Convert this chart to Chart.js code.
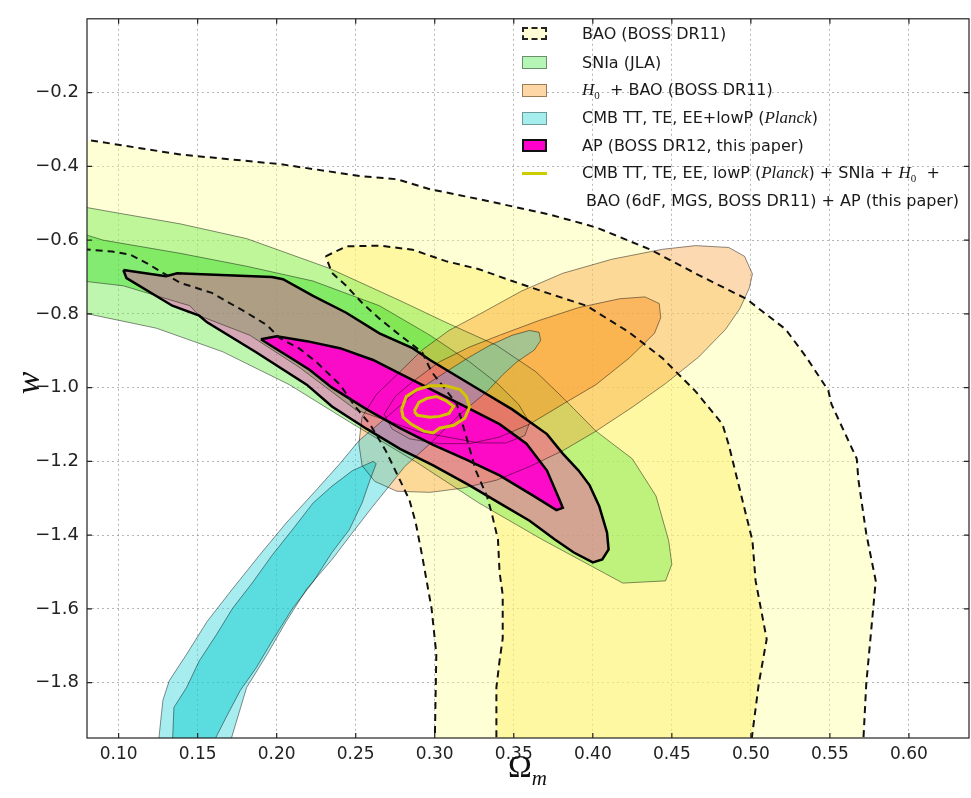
<!DOCTYPE html>
<html>
<head>
<meta charset="utf-8">
<script src="https://cdn.jsdelivr.net/npm/chart.js@4.4.1/dist/chart.umd.min.js"></script>
<style>
    body { margin: 0; background: #fff; }
    #quadro { position: relative; width: 971px; height: 798px; overflow: hidden; }
    #grafico { position: absolute; left: 0; top: 0; }
    .item {
        position: absolute; left: 522px; height: 28px;
        display: flex; align-items: center; white-space: nowrap;
        font: 16px 'DejaVu Sans', sans-serif; color: #1a1a1a;
    }
    .patch { width: 25px; height: 13px; box-sizing: border-box; margin-right: 35px; flex: none; }
    .p-bao { background: #fefdd6; border: 2px dashed #222; }
    .p-sn { background: #b5f5b5; border: 1px solid #6b8f6b; }
    .p-h0 { background: #fdd7a6; border: 1px solid #9a7d58; }
    .p-cmb { background: #a6eeee; border: 1px solid #6a9a9a; }
    .p-ap { background: #ff00cc; border: 2px solid #111; }
    .p-comb { height: 3px; background: #cccc00; }
    .mat { font-family: 'Liberation Serif', serif; font-style: italic; font-size: 17px; }
    .ind { font-family: 'Liberation Serif', serif; font-size: 11px; position: relative; top: 4px; }
    #tituloX { position: absolute; left: 508px; top: 748px; font: 32px 'Liberation Serif', serif; color: #111; }
    #tituloX i { font-size: 21px; position: relative; top: 8px; }
    #tituloY {
        position: absolute; left: 9px; top: 361px; width: 44px; height: 44px; line-height: 44px;
        text-align: center; transform: rotate(-90deg);
        font: italic 34px 'Liberation Serif', serif; color: #111;
    }
</style>
</head>
<body>
<div id="quadro">
    <canvas id="grafico" width="971" height="798"></canvas>

    <div class="item" style="top:19px"><span class="patch p-bao"></span><span>BAO (BOSS DR11)</span></div>
    <div class="item" style="top:48px"><span class="patch p-sn"></span><span>SNIa (JLA)</span></div>
    <div class="item" style="top:76px"><span class="patch p-h0"></span><span><span class="mat">H</span><span class="ind">0</span>&nbsp; + BAO (BOSS DR11)</span></div>
    <div class="item" style="top:104px"><span class="patch p-cmb"></span><span>CMB TT, TE, EE+lowP (<span class="mat">Planck</span>)</span></div>
    <div class="item" style="top:131px"><span class="patch p-ap"></span><span>AP (BOSS DR12, this paper)</span></div>
    <div class="item" style="top:159px"><span class="patch p-comb"></span><span>CMB TT, TE, EE, lowP (<span class="mat">Planck</span>) + SNIa + <span class="mat">H</span><span class="ind">0</span>&nbsp; +</span></div>
    <div class="item" style="top:186px; left:586px"><span>BAO (6dF, MGS, BOSS DR11) + AP (this paper)</span></div>

    <div id="tituloX">Ω<i>m</i></div>
    <div id="tituloY">w</div>
</div>

<script>
// Eixos: Omega_m na horizontal, w na vertical
const ticksOmega = [0.10, 0.15, 0.20, 0.25, 0.30, 0.35, 0.40, 0.45, 0.50, 0.55, 0.60];
const ticksW = [-1.8, -1.6, -1.4, -1.2, -1.0, -0.8, -0.6, -0.4, -0.2];

// Contornos (Omega_m, w) de cada conjunto de dados, 2 sigma e 1 sigma
const baoExterno = [
    [0.075, -0.327], [0.080, -0.328], [0.139, -0.368], [0.202, -0.394], [0.254, -0.427], [0.276, -0.435],
    [0.297, -0.462], [0.328, -0.489], [0.371, -0.529], [0.396, -0.558], [0.404, -0.569], [0.436, -0.625],
    [0.467, -0.695], [0.497, -0.759], [0.522, -0.842], [0.535, -0.917], [0.549, -1.008], [0.551, -1.045],
    [0.567, -1.193], [0.568, -1.249], [0.573, -1.396], [0.579, -1.524], [0.576, -1.664], [0.573, -1.803],
    [0.571, -1.970], [0.300, -1.970], [0.301, -1.722], [0.298, -1.599], [0.292, -1.455], [0.288, -1.367],
    [0.284, -1.305], [0.278, -1.251], [0.269, -1.171], [0.259, -1.099], [0.250, -1.053], [0.240, -0.992],
    [0.225, -0.930], [0.214, -0.893], [0.202, -0.866], [0.194, -0.831], [0.181, -0.797], [0.159, -0.743],
    [0.139, -0.716], [0.128, -0.689], [0.118, -0.663], [0.107, -0.639], [0.096, -0.631], [0.075, -0.624]
];
const baoInterno = [
    [0.231, -0.644], [0.244, -0.617], [0.265, -0.615], [0.286, -0.626], [0.307, -0.657], [0.328, -0.679],
    [0.349, -0.711], [0.371, -0.743], [0.396, -0.778], [0.423, -0.850], [0.444, -0.920], [0.465, -1.010],
    [0.482, -1.099], [0.486, -1.155], [0.494, -1.294], [0.501, -1.415], [0.503, -1.524], [0.510, -1.682],
    [0.505, -1.803], [0.500, -1.970], [0.339, -1.970], [0.339, -1.813], [0.341, -1.741], [0.343, -1.680],
    [0.343, -1.562], [0.341, -1.500], [0.340, -1.412], [0.336, -1.340], [0.333, -1.294], [0.326, -1.225],
    [0.320, -1.134], [0.314, -1.045], [0.298, -0.957], [0.292, -0.904], [0.278, -0.858], [0.265, -0.813],
    [0.254, -0.770], [0.244, -0.724], [0.235, -0.689]
];
const snExterno = [
    [0.075, -0.508], [0.096, -0.524], [0.139, -0.556], [0.181, -0.596], [0.233, -0.676], [0.278, -0.764],
    [0.307, -0.823], [0.339, -0.885], [0.364, -0.957], [0.381, -1.027], [0.402, -1.118], [0.425, -1.193],
    [0.440, -1.294], [0.448, -1.415], [0.450, -1.479], [0.446, -1.524], [0.419, -1.530], [0.368, -1.412],
    [0.328, -1.313], [0.288, -1.201], [0.246, -1.093], [0.208, -0.992], [0.166, -0.903], [0.124, -0.839],
    [0.075, -0.795]
];
const snInterno = [
    [0.075, -0.580], [0.090, -0.600], [0.139, -0.636], [0.181, -0.671], [0.223, -0.711], [0.265, -0.778],
    [0.297, -0.858], [0.322, -0.930], [0.340, -0.990], [0.353, -1.045], [0.360, -1.095], [0.357, -1.130],
    [0.345, -1.150], [0.328, -1.150], [0.290, -1.120], [0.250, -1.060], [0.214, -0.944], [0.183, -0.858],
    [0.151, -0.805], [0.145, -0.778], [0.103, -0.724], [0.075, -0.710]
];
const h0Externo = [
    [0.252, -1.152], [0.254, -1.080], [0.263, -1.019], [0.278, -0.957], [0.292, -0.898], [0.309, -0.845],
    [0.330, -0.797], [0.355, -0.738], [0.381, -0.690], [0.412, -0.652], [0.444, -0.625], [0.465, -0.615],
    [0.486, -0.620], [0.496, -0.644], [0.501, -0.692], [0.499, -0.730], [0.493, -0.786], [0.484, -0.842],
    [0.467, -0.917], [0.446, -0.989], [0.425, -1.053], [0.402, -1.118], [0.381, -1.171], [0.360, -1.214],
    [0.339, -1.251], [0.317, -1.273], [0.297, -1.284], [0.276, -1.281], [0.262, -1.254], [0.254, -1.211]
];
const h0Interno = [
    [0.268, -1.072], [0.275, -1.024], [0.286, -0.984], [0.303, -0.930], [0.322, -0.890], [0.341, -0.858],
    [0.366, -0.818], [0.391, -0.783], [0.417, -0.759], [0.433, -0.754], [0.442, -0.772], [0.443, -0.810],
    [0.439, -0.853], [0.423, -0.920], [0.402, -0.992], [0.381, -1.045], [0.360, -1.099], [0.341, -1.134],
    [0.322, -1.152], [0.303, -1.152], [0.284, -1.139], [0.273, -1.112]
];
const cmbExterno = [
    [0.125, -1.970], [0.128, -1.848], [0.132, -1.795], [0.143, -1.723], [0.156, -1.634], [0.172, -1.546],
    [0.189, -1.455], [0.206, -1.367], [0.225, -1.278], [0.240, -1.206], [0.252, -1.144], [0.268, -1.086],
    [0.290, -1.005], [0.309, -0.952], [0.322, -0.917], [0.335, -0.885], [0.349, -0.858], [0.360, -0.845],
    [0.366, -0.850], [0.367, -0.872], [0.363, -0.898], [0.352, -0.930], [0.343, -0.965], [0.333, -1.011],
    [0.316, -1.072], [0.297, -1.152], [0.281, -1.214], [0.271, -1.268], [0.261, -1.321], [0.248, -1.393],
    [0.235, -1.466], [0.219, -1.546], [0.206, -1.634], [0.194, -1.723], [0.181, -1.813], [0.170, -1.970]
];
const cmbInterno = [
    [0.134, -1.970], [0.135, -1.867], [0.143, -1.813], [0.151, -1.741], [0.162, -1.669], [0.172, -1.599],
    [0.185, -1.527], [0.197, -1.455], [0.210, -1.385], [0.223, -1.313], [0.235, -1.267], [0.248, -1.225],
    [0.261, -1.200], [0.263, -1.206], [0.259, -1.251], [0.254, -1.313], [0.246, -1.385], [0.235, -1.447],
    [0.223, -1.527], [0.210, -1.599], [0.197, -1.688], [0.187, -1.760], [0.177, -1.821], [0.168, -1.894],
    [0.159, -1.970]
];
const apExterno = [
    [0.103, -0.681], [0.130, -0.698], [0.137, -0.690], [0.197, -0.700], [0.204, -0.706], [0.223, -0.751],
    [0.244, -0.797], [0.265, -0.853], [0.286, -0.893], [0.297, -0.925], [0.328, -1.005], [0.349, -1.059],
    [0.371, -1.126], [0.381, -1.179], [0.391, -1.225], [0.398, -1.265], [0.404, -1.321], [0.409, -1.393],
    [0.410, -1.439], [0.406, -1.466], [0.400, -1.474], [0.388, -1.447], [0.376, -1.412], [0.360, -1.361],
    [0.341, -1.313], [0.322, -1.265], [0.299, -1.211], [0.278, -1.166], [0.257, -1.112], [0.235, -1.051],
    [0.219, -0.992], [0.187, -0.904], [0.156, -0.823], [0.151, -0.805], [0.134, -0.778], [0.105, -0.703]
];
const apInterno = [
    [0.190, -0.869], [0.200, -0.861], [0.219, -0.874], [0.240, -0.893], [0.261, -0.925], [0.278, -0.962],
    [0.303, -1.016], [0.320, -1.053], [0.341, -1.099], [0.358, -1.152], [0.371, -1.225], [0.379, -1.305],
    [0.381, -1.326], [0.377, -1.332], [0.362, -1.292], [0.341, -1.238], [0.320, -1.195], [0.299, -1.155],
    [0.278, -1.110], [0.257, -1.059], [0.235, -1.000], [0.221, -0.952], [0.208, -0.917], [0.196, -0.885]
];
const combExterno = [
    [0.279, -1.059], [0.282, -1.024], [0.289, -1.005], [0.297, -0.995], [0.307, -0.995], [0.316, -1.005],
    [0.320, -1.024], [0.322, -1.053], [0.319, -1.083], [0.312, -1.102], [0.303, -1.110], [0.299, -1.123],
    [0.293, -1.118], [0.285, -1.099], [0.280, -1.080]
];
const combInterno = [
    [0.287, -1.064], [0.290, -1.040], [0.295, -1.029], [0.301, -1.024], [0.307, -1.035], [0.312, -1.051],
    [0.309, -1.070], [0.303, -1.078], [0.297, -1.080], [0.289, -1.075]
];

// Dataset de um contorno fechado (repete o primeiro ponto no fim)
function contorno(pontos, estilo) {
    const dados = pontos.map(([x, y]) => ({ x, y }));
    dados.push({ ...dados[0] });
    return Object.assign({
        data: dados,
        fill: false,
        pointRadius: 0,
        tension: 0,
        borderWidth: 0,
        clip: 0
    }, estilo);
}

// Só o preenchimento
const area = (pontos, cor) => contorno(pontos, { fill: 'shape', backgroundColor: cor, borderColor: 'rgba(0,0,0,0)' });

const tracejado = { borderColor: '#111', borderWidth: 2, borderDash: [7, 5] };
const linhaFina = { borderColor: 'rgba(0, 0, 0, 0.45)', borderWidth: 1 };
const linhaAP = { borderColor: '#000', borderWidth: 2.5 };
const linhaComb = { borderColor: '#d2c400', borderWidth: 3 };

// Camadas de baixo para cima: primeiro as áreas, depois as linhas de contorno por cima de tudo
const camadas = [
    area(baoExterno, 'rgba(255, 255, 153, 0.4)'),
    area(baoInterno, 'rgba(255, 240, 100, 0.45)'),
    area(snExterno, 'rgba(110, 235, 80, 0.45)'),
    area(snInterno, 'rgba(60, 220, 40, 0.45)'),
    area(h0Externo, 'rgba(251, 160, 60, 0.4)'),
    area(h0Interno, 'rgba(250, 150, 40, 0.5)'),
    area(cmbExterno, 'rgba(60, 215, 220, 0.45)'),
    area(cmbInterno, 'rgba(0, 200, 205, 0.45)'),
    area(apExterno, 'rgba(255, 20, 190, 0.35)'),
    area(apInterno, 'rgba(255, 0, 204, 0.93)'),

    contorno(snExterno, linhaFina),
    contorno(snInterno, linhaFina),
    contorno(h0Externo, linhaFina),
    contorno(h0Interno, linhaFina),
    contorno(cmbExterno, linhaFina),
    contorno(cmbInterno, linhaFina),
    contorno(apExterno, linhaAP),
    contorno(apInterno, linhaAP),
    contorno(baoExterno, tracejado),
    contorno(baoInterno, tracejado),
    contorno(combExterno, linhaComb),
    contorno(combInterno, linhaComb)
];
// no Chart.js o menor "order" fica por cima
camadas.forEach((d, i) => { d.order = camadas.length - i; });

// Moldura do gráfico com marcas de escala para dentro
const moldura = {
    id: 'moldura',
    afterDraw(chart) {
        const { ctx, chartArea: a, scales } = chart;
        ctx.save();
        ctx.strokeStyle = '#222';
        ctx.lineWidth = 1.2;
        ctx.beginPath();
        ticksOmega.forEach(v => {
            const px = scales.x.getPixelForValue(v);
            ctx.moveTo(px, a.bottom); ctx.lineTo(px, a.bottom - 5);
            ctx.moveTo(px, a.top); ctx.lineTo(px, a.top + 5);
        });
        ticksW.forEach(v => {
            const py = scales.y.getPixelForValue(v);
            ctx.moveTo(a.left, py); ctx.lineTo(a.left + 5, py);
            ctx.moveTo(a.right, py); ctx.lineTo(a.right - 5, py);
        });
        ctx.stroke();
        ctx.strokeRect(a.left, a.top, a.right - a.left, a.bottom - a.top);
        ctx.restore();
    }
};

const grade = {
    color: 'rgba(110, 110, 110, 0.5)',
    lineWidth: 1,
    drawTicks: false
};

Chart.defaults.font.family = "'DejaVu Sans', sans-serif";

new Chart(document.getElementById('grafico').getContext('2d'), {
    type: 'line',
    data: { datasets: camadas },
    plugins: [moldura],
    options: {
        responsive: false,
        animation: false,
        devicePixelRatio: 1,
        events: [],
        layout: { padding: { left: 0, top: 9, right: 2, bottom: 0 } },
        plugins: {
            legend: { display: false },
            tooltip: { enabled: false }
        },
        scales: {
            x: {
                type: 'linear',
                min: 0.08,
                max: 0.638,
                z: 1,
                grid: grade,
                border: { display: false, dash: [2, 3] },
                afterBuildTicks: s => { s.ticks = ticksOmega.map(v => ({ value: v })); },
                afterFit: s => { s.height = 60; },
                ticks: {
                    padding: 6,
                    color: '#222',
                    font: { size: 17 },
                    callback: v => v.toFixed(2)
                }
            },
            y: {
                type: 'linear',
                min: -1.95,
                max: 0,
                z: 1,
                grid: grade,
                border: { display: false, dash: [2, 3] },
                afterBuildTicks: s => { s.ticks = ticksW.map(v => ({ value: v })); },
                afterFit: s => { s.width = 87; },
                ticks: {
                    padding: 8,
                    color: '#222',
                    font: { size: 18 },
                    callback: v => (v < 0 ? '\u2212' : '') + Math.abs(v).toFixed(1)
                }
            }
        }
    }
});
</script>
</body>
</html>
